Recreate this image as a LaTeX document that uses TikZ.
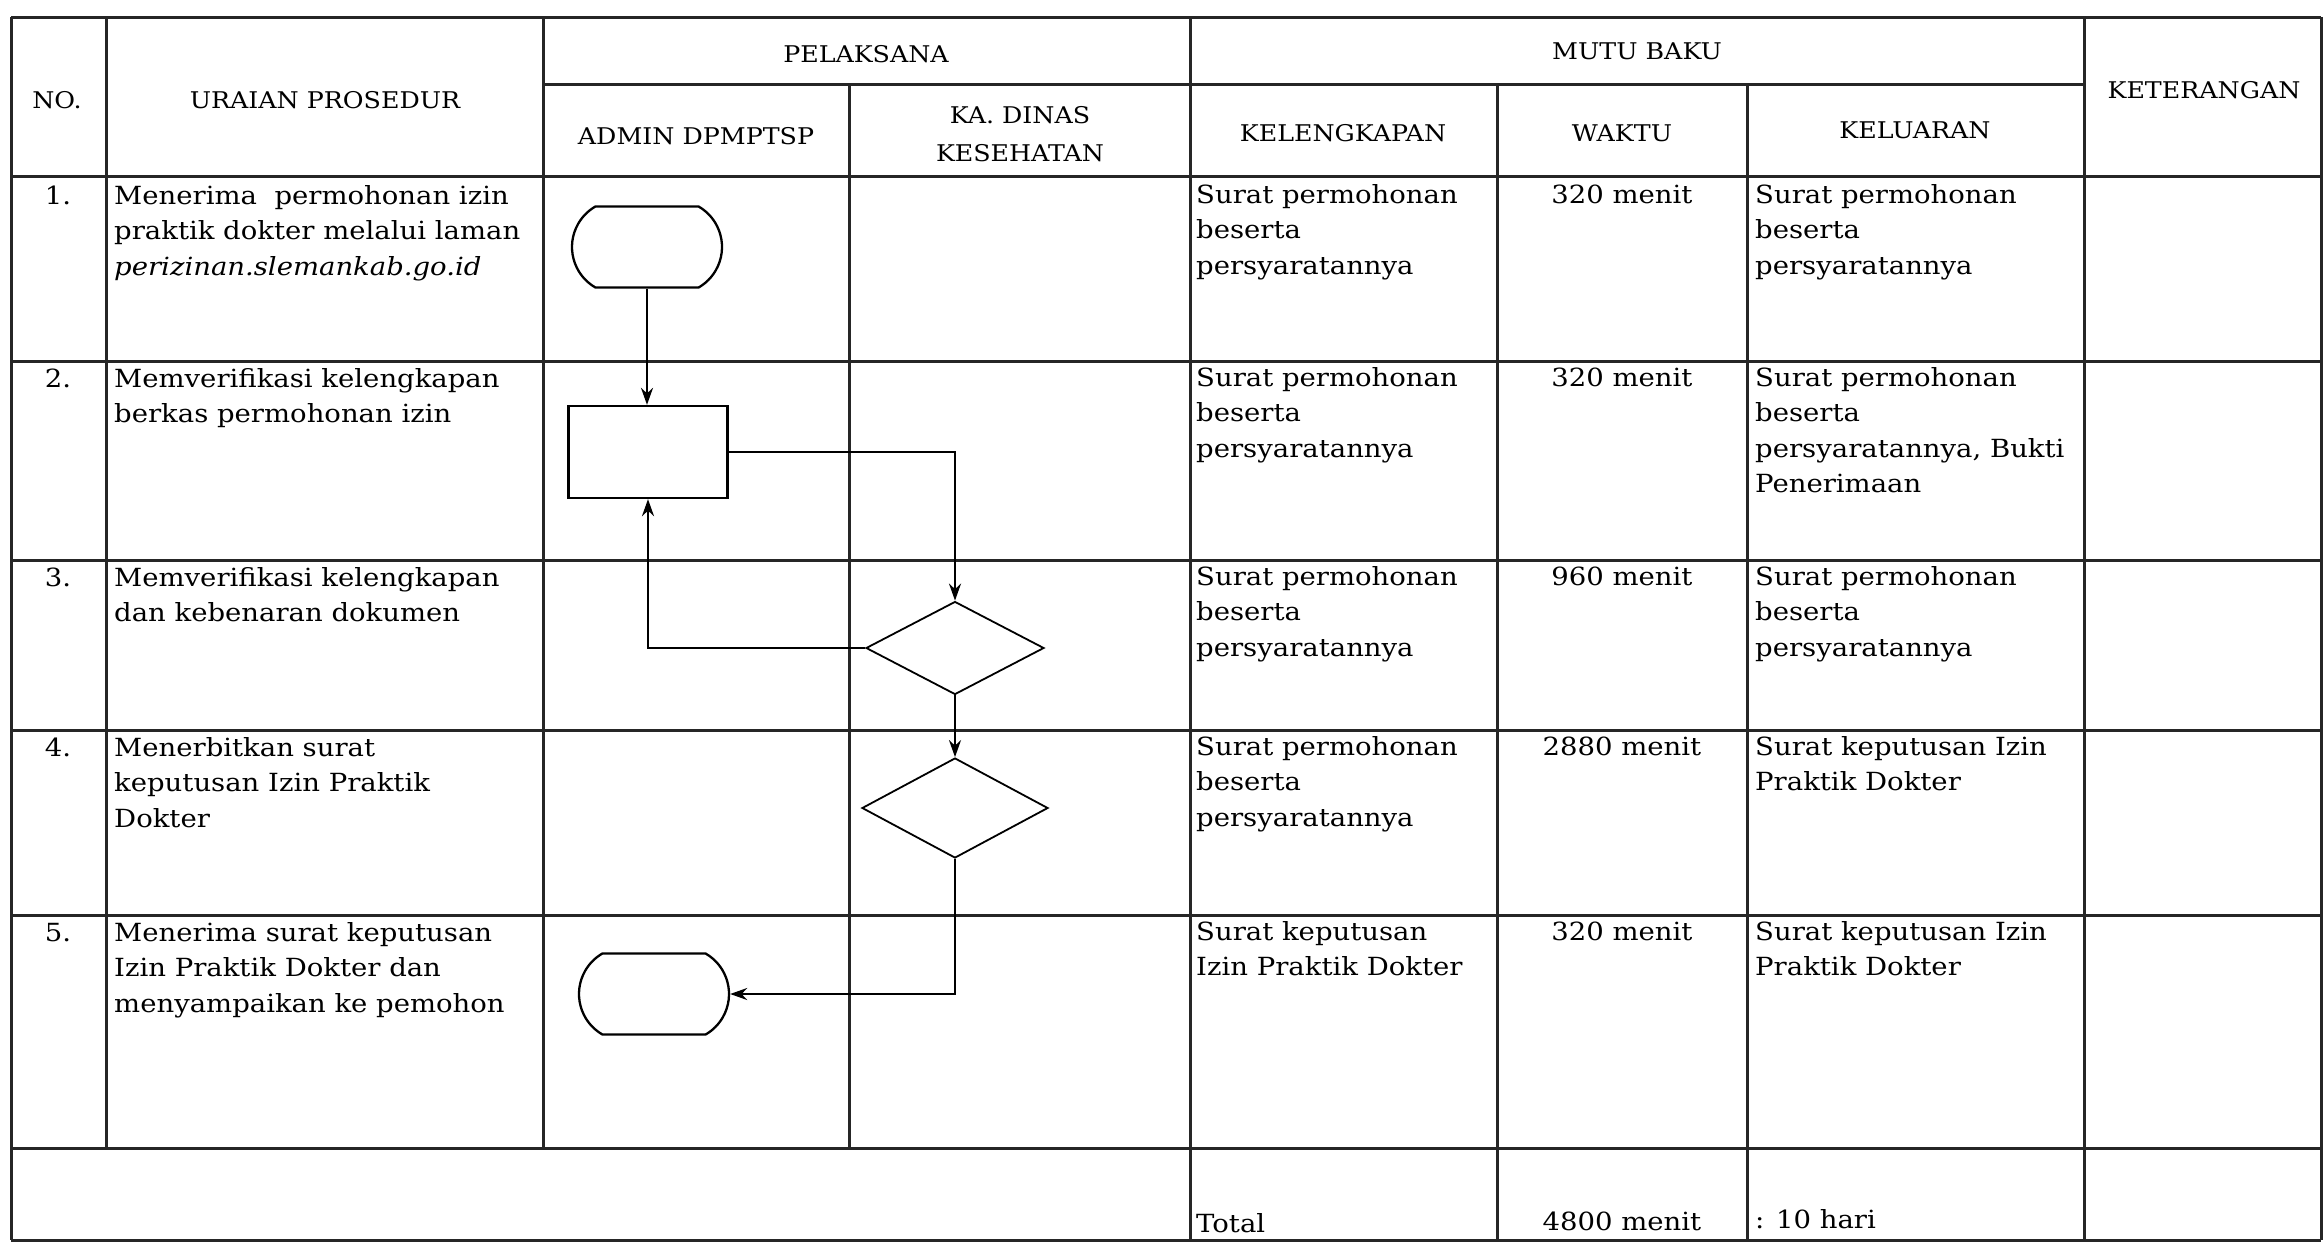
\documentclass[tikz,border=0pt]{standalone}
\usepackage{fontspec}
\setmainfont{DejaVu Serif}[FakeStretch=1.1]
\usetikzlibrary{arrows.meta,shapes.geometric,shapes.misc}
\newcommand\bodyfont{\fontsize{25}{35.5}\selectfont}
\newcommand\headfont{\fontsize{23}{38}\selectfont}
\tikzset{
  gridline/.style={line width=3pt, black!85},
  headtext/.style={font=\headfont, align=center, inner sep=0pt},
  celltext/.style={font=\bodyfont, align=left, inner sep=0pt, anchor=north west},
  numtext/.style={font=\bodyfont, inner sep=0pt, anchor=north},
  timetext/.style={font=\bodyfont, inner sep=0pt, anchor=north},
  termbox/.style={draw, line width=2.3pt, rounded rectangle, rounded rectangle arc length=120, minimum width=150pt, minimum height=81pt, inner sep=0pt},
  procbox/.style={draw, line width=2.3pt, rectangle, minimum width=159pt, minimum height=92pt, inner sep=0pt},
  decbox/.style={draw, line width=1.8pt, diamond, inner sep=0pt},
  flow/.style={line width=2.3pt, -{Stealth[length=17pt,width=12pt]}}
}
\begin{document}
\begin{tikzpicture}[x=1pt,y=-1pt]
\useasboundingbox (0,0) rectangle (2324,1243);
\fill[white] (0,0) rectangle (2324,1243);

% ---- table grid ----
\draw[gridline] (11,17) -- (2321,17);
\draw[gridline] (543,84) -- (2084,84);
\draw[gridline] (11,176) -- (2321,176);
\draw[gridline] (11,361) -- (2321,361);
\draw[gridline] (11,560) -- (2321,560);
\draw[gridline] (11,730) -- (2321,730);
\draw[gridline] (11,915) -- (2321,915);
\draw[gridline] (11,1148) -- (2321,1148);
\draw[gridline] (11,1240) -- (2321,1240);
\draw[gridline] (11,17) -- (11,1240);
\draw[gridline] (106,17) -- (106,1148);
\draw[gridline] (543,17) -- (543,1148);
\draw[gridline] (849,84) -- (849,1148);
\draw[gridline] (1190,17) -- (1190,1240);
\draw[gridline] (1497,84) -- (1497,1240);
\draw[gridline] (1747,84) -- (1747,1240);
\draw[gridline] (2084,17) -- (2084,1240);
\draw[gridline] (2321,17) -- (2321,1240);

% ---- headers ----
\node[headtext] (hno) at (57,100) {NO.};
\node[headtext] (hur) at (325,100) {URAIAN PROSEDUR};
\node[headtext] (hpel) at (866,54) {PELAKSANA};
\node[headtext] (hmutu) at (1637,51) {MUTU BAKU};
\node[headtext] (hket) at (2204,90) {KETERANGAN};
\node[headtext] (hadm) at (696,136) {ADMIN DPMPTSP};
\node[headtext] (hka) at (1020,134) {KA. DINAS\\KESEHATAN};
\node[headtext] (hkel) at (1343,133) {KELENGKAPAN};
\node[headtext] (hwak) at (1622,133) {WAKTU};
\node[headtext] (hklr) at (1915,130) {KELUARAN};

% ---- row 1 ----
\node[numtext] (n1) at (58,186) {1.};
\node[celltext] (u1) at (114,185) {Menerima\ \ permohonan izin\\praktik dokter melalui laman\\\textit{perizinan.slemankab.go.id}};
\node[celltext] (k1) at (1196,184) {Surat permohonan\\beserta\\persyaratannya};
\node[timetext] (w1) at (1622,185) {320 menit};
\node[celltext] (o1) at (1755,184) {Surat permohonan\\beserta\\persyaratannya};

% ---- row 2 ----
\node[numtext] (n2) at (58,369) {2.};
\node[celltext] (u2) at (114,368) {Memverifikasi kelengkapan\\berkas permohonan izin};
\node[celltext] (k2) at (1196,367) {Surat permohonan\\beserta\\persyaratannya};
\node[timetext] (w2) at (1622,368) {320 menit};
\node[celltext] (o2) at (1755,367) {Surat permohonan\\beserta\\persyaratannya, Bukti\\Penerimaan};

% ---- row 3 ----
\node[numtext] (n3) at (58,568) {3.};
\node[celltext] (u3) at (114,567) {Memverifikasi kelengkapan\\dan kebenaran dokumen};
\node[celltext] (k3) at (1196,566) {Surat permohonan\\beserta\\persyaratannya};
\node[timetext] (w3) at (1622,567) {960 menit};
\node[celltext] (o3) at (1755,566) {Surat permohonan\\beserta\\persyaratannya};

% ---- row 4 ----
\node[numtext] (n4) at (58,738) {4.};
\node[celltext] (u4) at (114,737) {Menerbitkan surat\\keputusan Izin Praktik\\Dokter};
\node[celltext] (k4) at (1196,736) {Surat permohonan\\beserta\\persyaratannya};
\node[timetext] (w4) at (1622,737) {2880 menit};
\node[celltext] (o4) at (1755,736) {Surat keputusan Izin\\Praktik Dokter};

% ---- row 5 ----
\node[numtext] (n5) at (58,923) {5.};
\node[celltext] (u5) at (114,922) {Menerima surat keputusan\\Izin Praktik Dokter dan\\menyampaikan ke pemohon};
\node[celltext] (k5) at (1196,921) {Surat keputusan\\Izin Praktik Dokter};
\node[timetext] (w5) at (1622,922) {320 menit};
\node[celltext] (o5) at (1755,921) {Surat keputusan Izin\\Praktik Dokter};

% ---- total row ----
\node[font=\bodyfont, inner sep=0pt, anchor=base west] (tot) at (1196,1232) {Total};
\node[font=\bodyfont, inner sep=0pt, anchor=base] (totw) at (1622,1230) {4800 menit};
\node[font=\bodyfont, inner sep=0pt, anchor=base west] (toth) at (1755,1228) {: 10 hari};

% ---- flowchart ----
\node[termbox] (t1) at (647,247) {};
\node[procbox] (p1) at (648,452) {};
\node[decbox, minimum width=178pt, minimum height=93pt] (d1) at (955,648) {};
\node[decbox, minimum width=186pt, minimum height=100pt] (d2) at (955,808) {};
\node[termbox] (t2) at (654,994) {};

\draw[flow] (t1.south) -- (t1.south |- p1.north);
\draw[flow] (p1.east) -| (d1.north);
\draw[flow] (d1.west) -| (p1.south);
\draw[flow] (d1.south) -- (d2.north);
\draw[flow] (d2.south) |- (t2.east);
\end{tikzpicture}
\end{document}
